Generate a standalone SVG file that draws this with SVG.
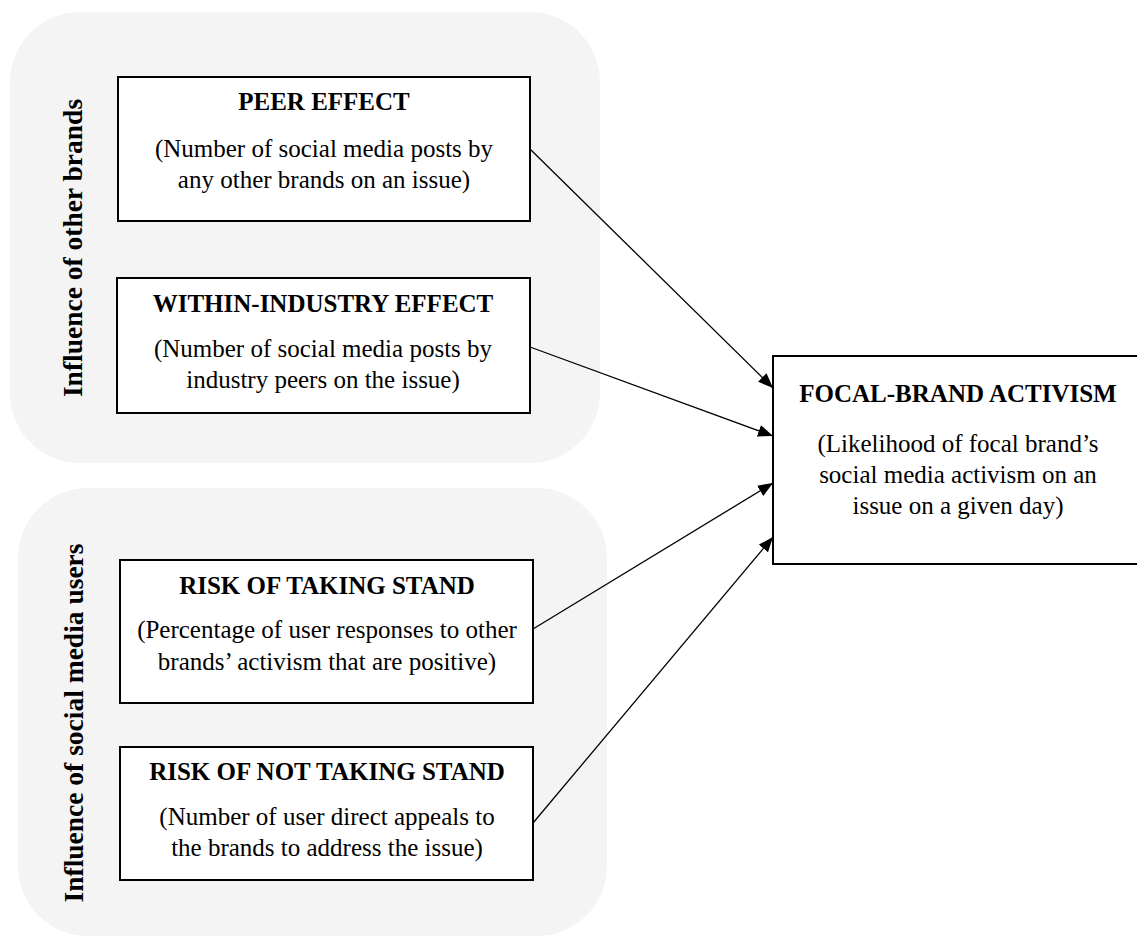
<svg xmlns="http://www.w3.org/2000/svg" width="1137" height="938" viewBox="0 0 1137 938">
<style>
.grp{fill:#f3f4f3;stroke:none}
.box{fill:#fff;stroke:#000;stroke-width:2}
.t{font-family:"Liberation Serif","Times New Roman",serif;font-size:25px;fill:#000;text-anchor:middle}
.b{font-weight:bold}
.lab{font-family:"Liberation Serif","Times New Roman",serif;font-size:27.5px;font-weight:bold;fill:#000;text-anchor:middle}
.con{stroke:#000;stroke-width:1.3;fill:none;marker-end:url(#ah)}
</style>
<defs>
<marker id="ah" markerWidth="16" markerHeight="12" refX="15" refY="6" orient="auto" markerUnits="userSpaceOnUse">
<path d="M0,0 L15,6 L0,12 Z" fill="#000"/>
</marker>
</defs>
<rect width="1137" height="938" fill="#fff"/>
<g id="group-other-brands">
<rect class="grp" x="10" y="12" width="590" height="451" rx="70" ry="70"/>
<text class="lab" transform="translate(82,248) rotate(-90)">Influence of other brands</text>
</g>
<g id="group-social-users">
<rect class="grp" x="18" y="488" width="589" height="448" rx="70" ry="70"/>
<text class="lab" transform="translate(83,723) rotate(-90)">Influence of social media users</text>
</g>
<g id="peer-effect">
<rect class="box" x="118" y="77" width="412" height="144"/>
<text class="t b" x="324" y="110">PEER EFFECT</text>
<text class="t" x="324" y="157">(Number of social media posts by</text>
<text class="t" x="324" y="188">any other brands on an issue)</text>
</g>
<g id="within-industry-effect">
<rect class="box" x="117" y="278" width="413" height="135"/>
<text class="t b" x="323" y="312">WITHIN-INDUSTRY EFFECT</text>
<text class="t" x="323" y="357">(Number of social media posts by</text>
<text class="t" x="323" y="388">industry peers on the issue)</text>
</g>
<g id="risk-taking-stand">
<rect class="box" x="120" y="560" width="413" height="143"/>
<text class="t b" x="327" y="594">RISK OF TAKING STAND</text>
<text class="t" x="327" y="638">(Percentage of user responses to other</text>
<text class="t" x="327" y="670">brands’ activism that are positive)</text>
</g>
<g id="risk-not-taking-stand">
<rect class="box" x="120" y="747" width="413" height="133"/>
<text class="t b" x="327" y="780">RISK OF NOT TAKING STAND</text>
<text class="t" x="327" y="825">(Number of user direct appeals to</text>
<text class="t" x="327" y="856">the brands to address the issue)</text>
</g>
<g id="focal-brand-activism">
<rect class="box" x="773" y="356" width="375" height="208"/>
<text class="t b" x="958" y="402">FOCAL-BRAND ACTIVISM</text>
<text class="t" x="958" y="452">(Likelihood of focal brand’s</text>
<text class="t" x="958" y="483">social media activism on an</text>
<text class="t" x="958" y="514">issue on a given day)</text>
</g>
<g id="connectors">
<line class="con" x1="531" y1="150" x2="773" y2="388"/>
<line class="con" x1="530" y1="347" x2="773" y2="436"/>
<line class="con" x1="533" y1="629" x2="773" y2="483"/>
<line class="con" x1="533" y1="823" x2="773" y2="537"/>
</g>
</svg>
